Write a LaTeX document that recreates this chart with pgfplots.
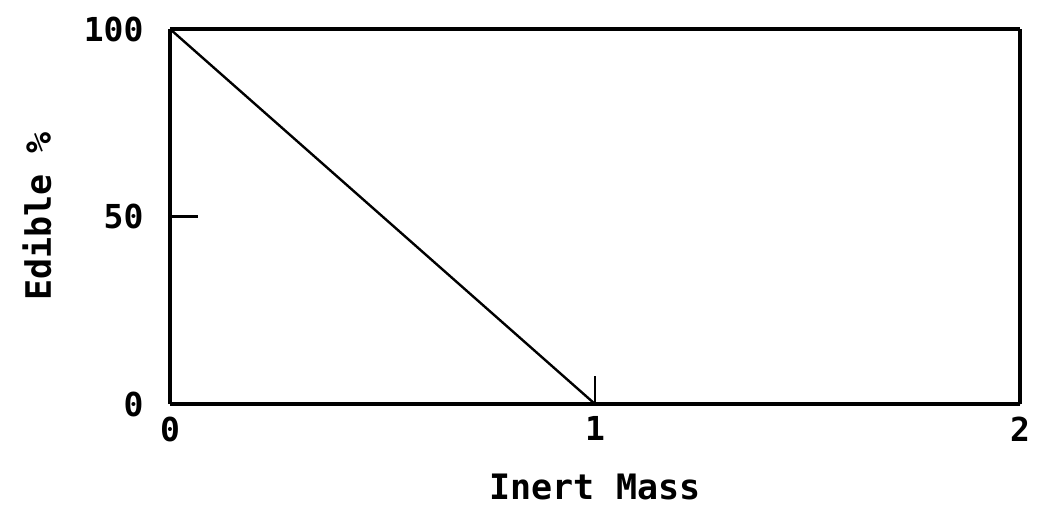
\documentclass[border=0pt]{standalone}
\usepackage{pgfplots}
\pgfplotsset{compat=1.18}
\usepackage{fontspec}
\setmonofont{DejaVu Sans Mono}
\newcommand\plotfont{\fontsize{33bp}{38bp}\selectfont\ttfamily\bfseries}
\newcommand\labfont{\fontsize{35bp}{40bp}\selectfont\ttfamily\bfseries}
\begin{document}
\begin{tikzpicture}
\begin{axis}[
    name=ax,
    scale only axis,
    width=850bp, height=375bp,
    xmin=0, xmax=2,
    ymin=0, ymax=100,
    xtick={0,1,2},
    ytick={0,50,100},
    xtick pos=bottom, ytick pos=left,
    tick align=inside,
    major tick length=28bp,
    separate axis lines,
    axis line style={line width=3.6bp},
    every tick/.style={black, line width=2.6bp},
    /pgf/number format/assume math mode=true,
    tick label style={font=\plotfont},
    xticklabel style={yshift=-9bp},
    yticklabel style={xshift=-23bp},
    xlabel={Inert Mass},
    ylabel={Edible \%},
    label style={font=\labfont},
    xlabel style={at={(axis description cs:0.5,-0.2213)}, anchor=center},
    ylabel style={at={(axis description cs:-0.1565,0.5)}, anchor=center, rotate=0},
    clip=false,
]
\addplot[black, line width=2.4bp] coordinates {
    (0,100) (1,0) (2,0)
};
\end{axis}
\path[use as bounding box] ([xshift=-170bp,yshift=-110bp]ax.south west) rectangle ([xshift=18bp,yshift=29bp]ax.north east);
\end{tikzpicture}
\end{document}
